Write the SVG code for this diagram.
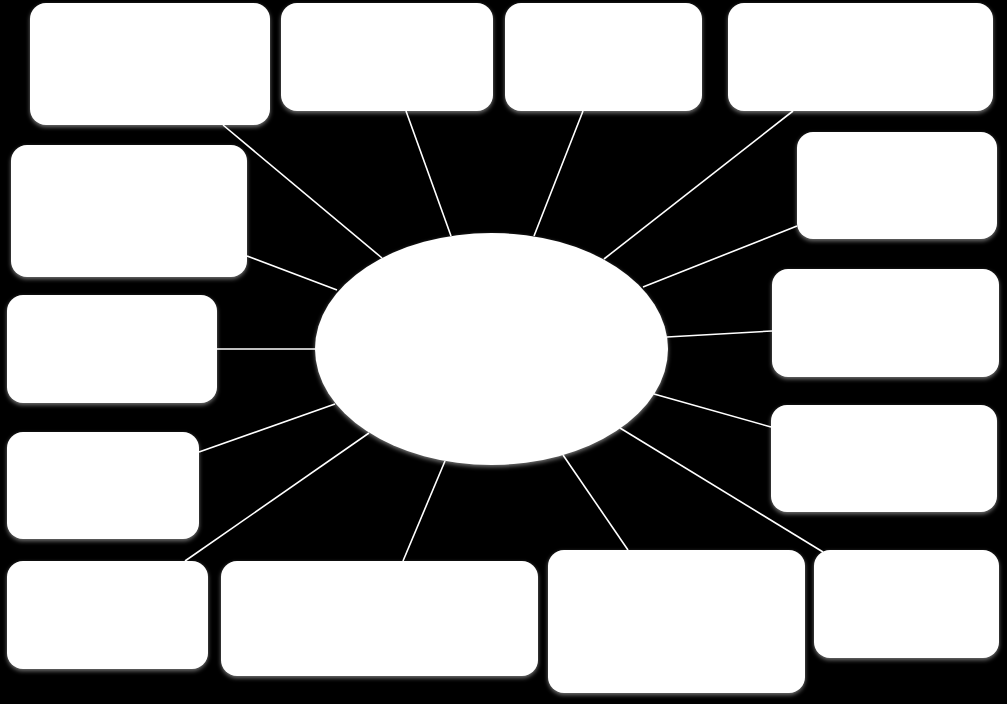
<svg xmlns="http://www.w3.org/2000/svg" width="1007" height="704" viewBox="0 0 1007 704">
<style>
.node{fill:#ffffff;filter:url(#glow)}
.conn line{stroke:#ffffff;stroke-width:1.6}
</style>
<defs>
<filter id="glow" x="-10%" y="-10%" width="120%" height="125%">
<feDropShadow dx="0" dy="2" stdDeviation="2" flood-color="#ffffff" flood-opacity="0.45"/>
</filter>
</defs>
<rect x="0" y="0" width="1007" height="704" fill="#000000"/>
<g id="connectors" class="conn">
<line x1="223" y1="125" x2="382" y2="258"/>
<line x1="406" y1="111" x2="451" y2="236"/>
<line x1="583" y1="111" x2="534" y2="236"/>
<line x1="793" y1="111" x2="604" y2="259"/>
<line x1="247" y1="256" x2="337" y2="290"/>
<line x1="797" y1="226" x2="643" y2="287"/>
<line x1="217" y1="349" x2="315" y2="349"/>
<line x1="772" y1="331" x2="667" y2="337"/>
<line x1="199" y1="452" x2="335" y2="404"/>
<line x1="771" y1="427" x2="654" y2="394"/>
<line x1="185" y1="561" x2="369" y2="433"/>
<line x1="403" y1="561" x2="445" y2="461"/>
<line x1="628" y1="550" x2="563" y2="455"/>
<line x1="823" y1="552" x2="620" y2="428"/>
</g>
<g id="center"><ellipse class="node" cx="491.5" cy="349" rx="176.5" ry="116"/></g>
<g id="n1"><rect class="node" x="30" y="3" width="240" height="122" rx="16"/></g>
<g id="n2"><rect class="node" x="281" y="3" width="212" height="108" rx="16"/></g>
<g id="n3"><rect class="node" x="505" y="3" width="197" height="108" rx="16"/></g>
<g id="n4"><rect class="node" x="728" y="3" width="265" height="108" rx="16"/></g>
<g id="n5"><rect class="node" x="11" y="145" width="236" height="132" rx="16"/></g>
<g id="n6"><rect class="node" x="797" y="132" width="200" height="107" rx="16"/></g>
<g id="n7"><rect class="node" x="7" y="295" width="210" height="108" rx="16"/></g>
<g id="n8"><rect class="node" x="772" y="269" width="227" height="108" rx="16"/></g>
<g id="n9"><rect class="node" x="7" y="432" width="192" height="107" rx="16"/></g>
<g id="n10"><rect class="node" x="771" y="405" width="226" height="107" rx="16"/></g>
<g id="n11"><rect class="node" x="7" y="561" width="201" height="108" rx="16"/></g>
<g id="n12"><rect class="node" x="221" y="561" width="317" height="115" rx="16"/></g>
<g id="n13"><rect class="node" x="548" y="550" width="257" height="143" rx="16"/></g>
<g id="n14"><rect class="node" x="814" y="550" width="185" height="108" rx="16"/></g>
</svg>
